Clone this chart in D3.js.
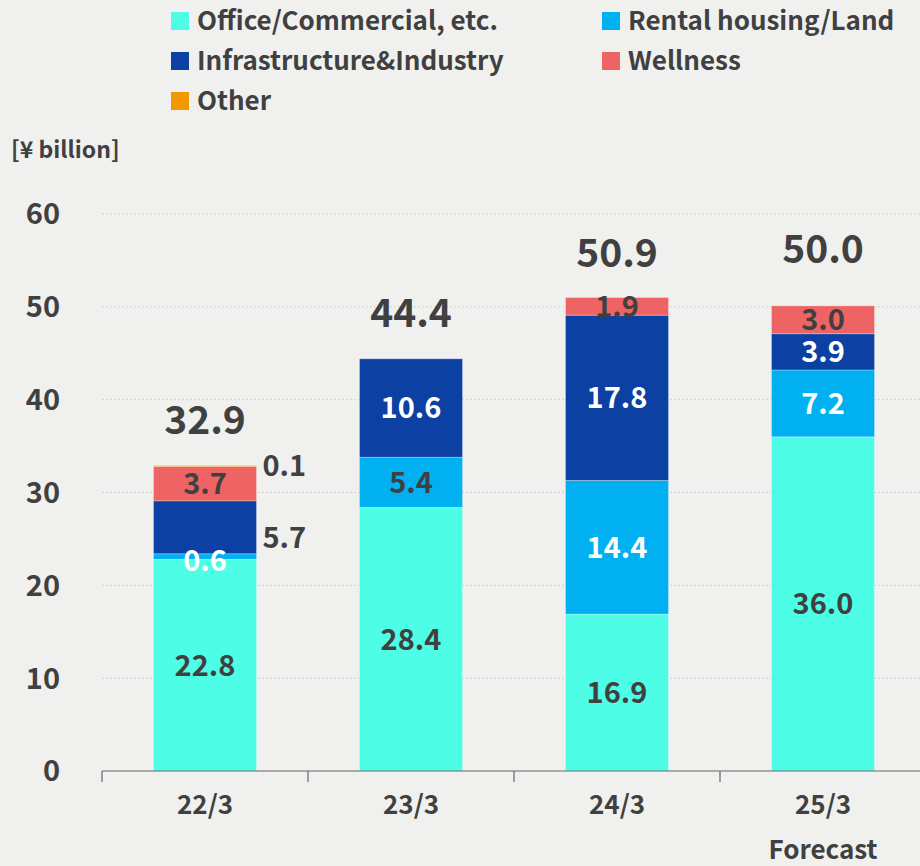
<!DOCTYPE html>
<html>
<head>
<meta charset="utf-8">
<script src="https://cdn.jsdelivr.net/npm/d3@7"></script>
<style>
    body { margin: 0; background: #f0f0ef; }
    svg { display: block; font-family: "Noto Sans CJK JP", "Noto Sans", sans-serif; font-weight: bold; }
</style>
</head>
<body>
<div id="chart"></div>
<script>
const years = ["22/3", "23/3", "24/3", "25/3"];
const series = ["Office/Commercial, etc.", "Rental housing/Land", "Infrastructure&Industry", "Wellness", "Other"];
const office = [22.8, 28.4, 16.9, 36.0];
const rental = [0.6, 5.4, 14.4, 7.2];
const infra = [5.7, 10.6, 17.8, 3.9];
const wellness = [3.7, 0, 1.9, 3.0];
const other = [0.1, 0, 0, 0];
const totals = [32.9, 44.4, 50.9, 50.0];
const yTicks = [0, 10, 20, 30, 40, 50, 60];

const colors = ["#4dfde6", "#00b0f0", "#0c41a3", "#ee6363", "#f39800"];
const labelColors = ["#404040", "#ffffff", "#ffffff", "#404040", "#404040"];
const ink = "#404040";

const width = 920, height = 866;
const margin = { top: 214, left: 102, bottom: 95 };
const plotRight = 926;

const svg = d3.select("#chart").append("svg")
    .attr("width", width)
    .attr("height", height);

const x = d3.scaleBand()
    .domain(years)
    .range([margin.left, plotRight])
    .paddingInner(0.5)
    .paddingOuter(0.25);

const y = d3.scaleLinear()
    .domain([0, 60])
    .range([height - margin.bottom, margin.top]);

// grid
svg.append("g")
    .selectAll("line")
    .data(yTicks.slice(1))
    .enter().append("line")
    .attr("x1", margin.left)
    .attr("x2", width)
    .attr("y1", d => y(d))
    .attr("y2", d => y(d))
    .attr("stroke", "#d0d0d0")
    .attr("stroke-width", 1)
    .attr("stroke-dasharray", "2,2");

// y tick labels
svg.append("g")
    .selectAll("text")
    .data(yTicks)
    .enter().append("text")
    .attr("x", 60)
    .attr("y", d => y(d))
    .attr("dy", "0.36em")
    .attr("text-anchor", "end")
    .attr("font-size", 29)
    .attr("fill", ink)
    .text(d => d);

svg.append("text")
    .attr("x", 11)
    .attr("y", 158)
    .attr("font-size", 23)
    .attr("fill", ink)
    .text("[¥ billion]");

// stacked bars
const table = years.map((yr, i) => ({
    year: yr,
    vals: [office[i], rental[i], infra[i], wellness[i], other[i]]
}));

const stack = d3.stack()
    .keys(d3.range(series.length))
    .value((d, k) => d.vals[k]);

const layers = stack(table);

const bars = svg.append("g");
layers.forEach((layer, k) => {
    bars.selectAll(null)
        .data(layer.filter(d => d[1] > d[0]))
        .enter().append("rect")
        .attr("x", d => x(d.data.year))
        .attr("width", x.bandwidth())
        .attr("y", d => y(d[1]))
        .attr("height", d => y(d[0]) - y(d[1]))
        .attr("fill", colors[k])
        .attr("stroke", "rgba(255,255,255,0.35)")
        .attr("stroke-width", 0.8);
});

// segment labels
const outside = { "22/3": [2, 4] };
const darkOverride = { "23/3": [1] };
layers.forEach((layer, k) => {
    layer.forEach(d => {
        if (d[1] <= d[0]) return;
        const yr = d.data.year;
        const isOut = outside[yr] && outside[yr].includes(k);
        let col = labelColors[k];
        if (darkOverride[yr] && darkOverride[yr].includes(k)) col = ink;
        if (isOut) col = ink;
        let cy = y((d[0] + d[1]) / 2);
        if (k === 4) cy = y(d[1]);
        if (isOut && k === 2) cy += 10;
        if (k === 1 && yr === "22/3") cy += 4;
        svg.append("text")
            .attr("x", isOut ? x(yr) + x.bandwidth() + 6 : x(yr) + x.bandwidth() / 2)
            .attr("y", cy)
            .attr("dy", "0.36em")
            .attr("text-anchor", isOut ? "start" : "middle")
            .attr("font-size", 29)
            .attr("fill", col)
            .text(d.data.vals[k].toFixed(1));
    });
});

// totals
svg.append("g")
    .selectAll("text")
    .data(totals)
    .enter().append("text")
    .attr("x", (d, i) => x(years[i]) + x.bandwidth() / 2)
    .attr("y", (d, i) => y(d) - (i === 3 ? 58 : 46))
    .attr("dy", "0.36em")
    .attr("text-anchor", "middle")
    .attr("font-size", 39)
    .attr("fill", ink)
    .text(d => d.toFixed(1));

// x axis
const xAxis = svg.append("g");
xAxis.append("line")
    .attr("x1", margin.left)
    .attr("x2", width)
    .attr("y1", y(0))
    .attr("y2", y(0))
    .attr("stroke", "#666")
    .attr("stroke-width", 1.2);

xAxis.selectAll("line.tick")
    .data(years)
    .enter().append("line")
    .attr("class", "tick")
    .attr("x1", d => x(d) - x.step() * 0.25)
    .attr("x2", d => x(d) - x.step() * 0.25)
    .attr("y1", y(0))
    .attr("y2", y(0) + 11)
    .attr("stroke", "#666")
    .attr("stroke-width", 1.2);

xAxis.selectAll("text")
    .data(years)
    .enter().append("text")
    .attr("x", d => x(d) + x.bandwidth() / 2)
    .attr("y", 805)
    .attr("dy", "0.36em")
    .attr("text-anchor", "middle")
    .attr("font-size", 26)
    .attr("fill", ink)
    .text(d => d);

svg.append("text")
    .attr("x", x("25/3") + x.bandwidth() / 2)
    .attr("y", 850)
    .attr("dy", "0.36em")
    .attr("text-anchor", "middle")
    .attr("font-size", 26)
    .attr("fill", ink)
    .text("Forecast");

// legend
const legendPos = [[171, 12], [602, 12], [171, 52], [602, 52], [171, 92]];
const legend = svg.append("g");
series.forEach((s, i) => {
    const [lx, ly] = legendPos[i];
    legend.append("rect")
        .attr("x", lx).attr("y", ly)
        .attr("width", 18).attr("height", 18)
        .attr("fill", colors[i]);
    legend.append("text")
        .attr("x", lx + 26)
        .attr("y", ly + 9)
        .attr("dy", "0.36em")
        .attr("font-size", 26)
        .attr("fill", ink)
        .text(s);
});
</script>
</body>
</html>
